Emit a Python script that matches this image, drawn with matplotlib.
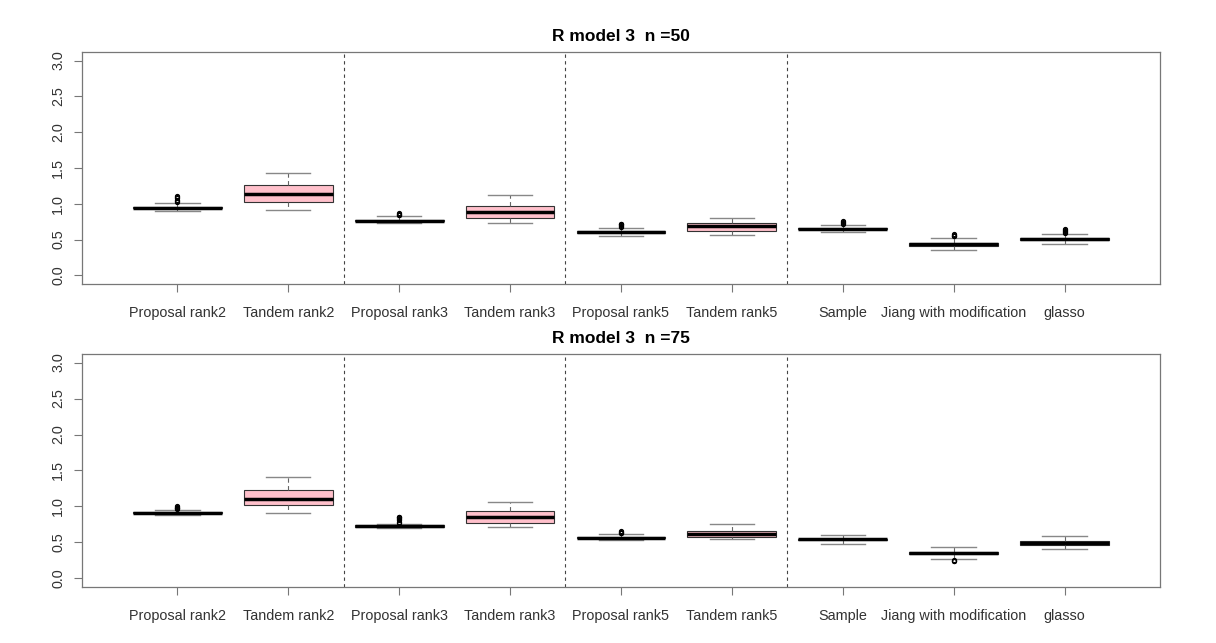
import matplotlib
matplotlib.use('Agg')
import matplotlib.pyplot as plt

plt.rcParams['font.family'] = ['Liberation Sans', 'DejaVu Sans']

labels = ['Proposal rank2', 'Tandem rank2', 'Proposal rank3', 'Tandem rank3',
          'Proposal rank5', 'Tandem rank5', 'Sample', 'Jiang with modification', 'glasso']

# n = 50
med50 = [0.947, 1.142, 0.766, 0.880, 0.607, 0.687, 0.654, 0.432, 0.510]
q1_50 = [0.935, 1.025, 0.755, 0.808, 0.598, 0.621, 0.645, 0.404, 0.498]
q3_50 = [0.960, 1.258, 0.776, 0.972, 0.615, 0.733, 0.662, 0.454, 0.522]
lo50 = [0.900, 0.909, 0.728, 0.738, 0.557, 0.571, 0.603, 0.357, 0.440]
hi50 = [1.017, 1.425, 0.830, 1.123, 0.668, 0.800, 0.710, 0.529, 0.575]
fliers50 = [[1.03, 1.045, 1.06, 1.075, 1.09, 1.105], [], [0.84, 0.85, 0.86, 0.87], [],
            [0.68, 0.69, 0.70, 0.715, 0.725], [], [0.72, 0.73, 0.745, 0.755],
            [0.545, 0.555, 0.57, 0.58], [0.595, 0.61, 0.625, 0.64, 0.65]]

# n = 75
med75 = [0.914, 1.105, 0.733, 0.850, 0.566, 0.617, 0.543, 0.348, 0.488]
q1_75 = [0.905, 1.021, 0.718, 0.770, 0.558, 0.580, 0.533, 0.337, 0.460]
q3_75 = [0.922, 1.226, 0.748, 0.933, 0.575, 0.654, 0.553, 0.360, 0.520]
lo75 = [0.882, 0.905, 0.700, 0.710, 0.534, 0.543, 0.478, 0.265, 0.412]
hi75 = [0.951, 1.407, 0.760, 1.063, 0.613, 0.756, 0.603, 0.432, 0.585]
fliers75 = [[0.965, 0.975, 0.985, 0.995, 1.005], [], [0.775, 0.79, 0.805, 0.82, 0.835, 0.85, 0.86], [],
            [0.625, 0.635, 0.645, 0.66], [], [], [0.235, 0.245, 0.255], []]

fills50 = ['white', 'pink', 'white', 'pink', 'white', 'pink', 'white', 'white', 'white']
fills75 = ['white', 'pink', 'white', 'pink', 'white', 'pink', 'white', 'white', '#2F4F4F']

separators = [2.5, 4.5, 6.5]
yticks = [0.0, 0.5, 1.0, 1.5, 2.0, 2.5, 3.0]


def draw_panel(ax, title, med, q1, q3, lo, hi, fliers, fills):
    stats = []
    for i in range(len(labels)):
        stats.append(dict(med=med[i], q1=q1[i], q3=q3[i], whislo=lo[i],
                          whishi=hi[i], fliers=fliers[i], label=labels[i]))
    pos = list(range(1, len(labels) + 1))
    bp = ax.bxp(stats, positions=pos, widths=0.8, capwidths=0.4, patch_artist=True,
                boxprops=dict(edgecolor='#333333', linewidth=0.8),
                medianprops=dict(color='black', linewidth=2.5),
                whiskerprops=dict(color='#666666', linewidth=0.8, linestyle=(0, (4, 3))),
                capprops=dict(color='#888888', linewidth=1.0),
                flierprops=dict(marker='o', markerfacecolor='none',
                                markeredgecolor='black', markersize=3.0,
                                markeredgewidth=0.8))
    for patch, col in zip(bp['boxes'], fills):
        patch.set_facecolor(col)
    for x in separators:
        ax.axvline(x, color='#444444', linewidth=0.8, linestyle=(0, (3, 3)))
    ax.set_xlim(0.14, 9.86)
    ax.set_ylim(-0.12, 3.12)
    ax.set_yticks(yticks)
    ax.set_yticklabels(['%.1f' % v for v in yticks], rotation=90, va='center')
    ax.set_xticks(pos)
    ax.set_xticklabels(labels)
    ax.tick_params(axis='both', colors='#777777', labelcolor='#333333',
                   labelsize=10.4, length=6, width=0.8)
    ax.tick_params(axis='x', pad=10)
    ax.tick_params(axis='y', pad=6)
    for sp in ax.spines.values():
        sp.set_color('#777777')
        sp.set_linewidth(0.9)
    ax.set_title(title, fontsize=12.5, fontweight='bold', pad=8)


fig = plt.figure(figsize=(12.16, 6.43), dpi=100)
ax1 = fig.add_axes([0.0674, 0.5583, 0.8865, 0.3608])
ax2 = fig.add_axes([0.0674, 0.0871, 0.8865, 0.3624])

draw_panel(ax1, 'R model 3  n =50', med50, q1_50, q3_50, lo50, hi50, fliers50, fills50)
draw_panel(ax2, 'R model 3  n =75', med75, q1_75, q3_75, lo75, hi75, fliers75, fills75)

fig.savefig('out.png', dpi=100)
